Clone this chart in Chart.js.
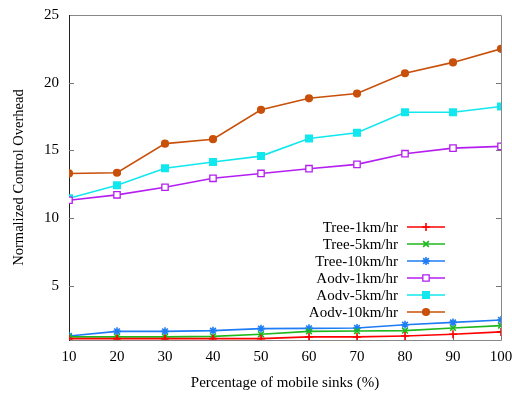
<!DOCTYPE html>
<html>
<head>
<meta charset="utf-8">
<script src="https://cdn.jsdelivr.net/npm/chart.js@4/dist/chart.umd.min.js"></script>
<style>
  html, body { margin: 0; padding: 0; background: #fff; }
  #wrap { width: 512px; height: 393px; }
</style>
</head>
<body>
<div id="wrap"><canvas id="overheadChart" width="512" height="393"></canvas></div>
<script>
// Data
const sinkPercent = [10, 20, 30, 40, 50, 60, 70, 80, 90, 100];
const yTickValues = [5, 10, 15, 20, 25];

const tree1 = [1.10, 1.10, 1.10, 1.10, 1.10, 1.23, 1.23, 1.30, 1.42, 1.60];
const tree5 = [1.23, 1.23, 1.23, 1.27, 1.42, 1.64, 1.66, 1.69, 1.89, 2.06];
const tree10 = [1.30, 1.64, 1.64, 1.69, 1.84, 1.86, 1.89, 2.13, 2.30, 2.48];
const aodv1 = [11.32, 11.72, 12.28, 12.94, 13.30, 13.65, 13.97, 14.76, 15.17, 15.30];
const aodv5 = [11.47, 12.43, 13.68, 14.14, 14.58, 15.88, 16.30, 17.82, 17.82, 18.24];
const aodv10 = [13.30, 13.35, 15.50, 15.83, 18.00, 18.85, 19.20, 20.70, 21.50, 22.50];

const FONT = '"Liberation Serif", "DejaVu Serif", serif';

function series(label, values, color, pointStyle, filled) {
    let radius = 4;
    if (pointStyle === 'rect') radius = 4.5;
    if (pointStyle === 'circle') radius = 3.3;
    return {
        label: label,
        data: values.map((v, i) => ({ x: sinkPercent[i], y: v })),
        borderColor: color,
        backgroundColor: filled ? color : '#ffffff',
        pointBorderColor: color,
        pointBackgroundColor: filled ? color : '#ffffff',
        borderWidth: 1.6,
        pointStyle: pointStyle,
        pointRadius: radius,
        pointBorderWidth: pointStyle === 'rect' && !filled ? 1.3 : 1.6,
        tension: 0
    };
}

// legend drawn inside the plot, text right-aligned with the sample on its right
const insideLegend = {
    id: 'insideLegend',
    afterDatasetsDraw(chart) {
        const ctx = chart.ctx;
        const textRight = 398;
        const sampleLeft = 407, sampleRight = 445;
        let y = 227;
        ctx.save();
        ctx.font = '15px ' + FONT;
        ctx.textAlign = 'right';
        ctx.textBaseline = 'middle';
        chart.data.datasets.forEach(ds => {
            ctx.fillStyle = '#000';
            ctx.fillText(ds.label, textRight, y + 1);
            ctx.strokeStyle = ds.borderColor;
            ctx.lineWidth = ds.borderWidth;
            ctx.beginPath();
            ctx.moveTo(sampleLeft, y);
            ctx.lineTo(sampleRight, y);
            ctx.stroke();
            ctx.fillStyle = ds.pointBackgroundColor;
            ctx.strokeStyle = ds.pointBorderColor;
            ctx.lineWidth = ds.pointBorderWidth;
            Chart.helpers.drawPoint(ctx, {
                pointStyle: ds.pointStyle,
                radius: ds.pointRadius,
                borderWidth: ds.pointBorderWidth,
                rotation: 0
            }, (sampleLeft + sampleRight) / 2, y);
            y += 17;
        });
        ctx.restore();
    }
};

// frame and inward ticks like the original plot
const frameTicks = {
    id: 'frameTicks',
    beforeDatasetsDraw(chart) {
        const { ctx, chartArea: a, scales } = chart;
        ctx.save();
        ctx.lineWidth = 1;
        ctx.strokeStyle = '#888';
        ctx.beginPath();
        ctx.moveTo(a.left, a.top + 0.5); ctx.lineTo(a.right + 0.5, a.top + 0.5);
        ctx.lineTo(a.right + 0.5, a.bottom + 0.5); ctx.lineTo(a.left, a.bottom + 0.5);
        ctx.stroke();
        ctx.strokeStyle = '#222';
        ctx.beginPath();
        ctx.moveTo(a.left + 0.5, a.top); ctx.lineTo(a.left + 0.5, a.bottom + 1);
        ctx.stroke();
        ctx.strokeStyle = '#777';
        ctx.beginPath();
        yTickValues.slice(0, -1).forEach(v => {
            const py = Math.round(scales.y.getPixelForValue(v)) + 0.5;
            ctx.moveTo(a.left, py); ctx.lineTo(a.left + 5, py);
            ctx.moveTo(a.right, py); ctx.lineTo(a.right - 5, py);
        });
        sinkPercent.forEach(v => {
            const px = Math.round(scales.x.getPixelForValue(v)) + 0.5;
            ctx.moveTo(px, a.bottom); ctx.lineTo(px, a.bottom - 5);
        });
        ctx.stroke();
        ctx.restore();
    }
};

new Chart(document.getElementById('overheadChart').getContext('2d'), {
    type: 'line',
    data: {
        datasets: [
            series('Tree-1km/hr', tree1, '#ff0000', 'cross', true),
            series('Tree-5km/hr', tree5, '#1cb81c', 'crossRot', true),
            series('Tree-10km/hr', tree10, '#1e7cf5', 'star', true),
            series('Aodv-1km/hr', aodv1, '#b41ef0', 'rect', false),
            series('Aodv-5km/hr', aodv5, '#10e8ee', 'rect', true),
            series('Aodv-10km/hr', aodv10, '#c8500a', 'circle', true)
        ]
    },
    options: {
        responsive: false,
        animation: false,
        layout: { padding: { top: 15, right: 11, left: 0, bottom: 0 } },
        plugins: {
            legend: { display: false },
            tooltip: { enabled: false }
        },
        scales: {
            x: {
                type: 'linear',
                min: 10,
                max: 100,
                afterBuildTicks: s => { s.ticks = sinkPercent.map(v => ({ value: v })); },
                afterFit: s => { s.height = 53; s.paddingLeft = 0; s.paddingRight = 0; },
                grid: { display: false, drawTicks: false },
                border: { display: false },
                ticks: { color: '#000', padding: 8, font: { family: FONT, size: 15 } },
                title: {
                    display: true,
                    text: 'Percentage of mobile sinks (%)',
                    color: '#000',
                    padding: { top: 4, bottom: 1 },
                    font: { family: FONT, size: 15 }
                }
            },
            y: {
                min: 1,
                max: 25,
                afterBuildTicks: s => { s.ticks = yTickValues.map(v => ({ value: v })); },
                afterFit: s => { s.width = 69; s.paddingTop = 0; s.paddingBottom = 0; },
                grid: { display: false, drawTicks: false },
                border: { display: false },
                ticks: { color: '#000', padding: 10, font: { family: FONT, size: 15 } },
                title: {
                    display: true,
                    text: 'Normalized Control Overhead',
                    color: '#000',
                    padding: { top: 10, bottom: 0 },
                    font: { family: FONT, size: 14.5 }
                }
            }
        }
    },
    plugins: [frameTicks, insideLegend]
});
</script>
</body>
</html>
